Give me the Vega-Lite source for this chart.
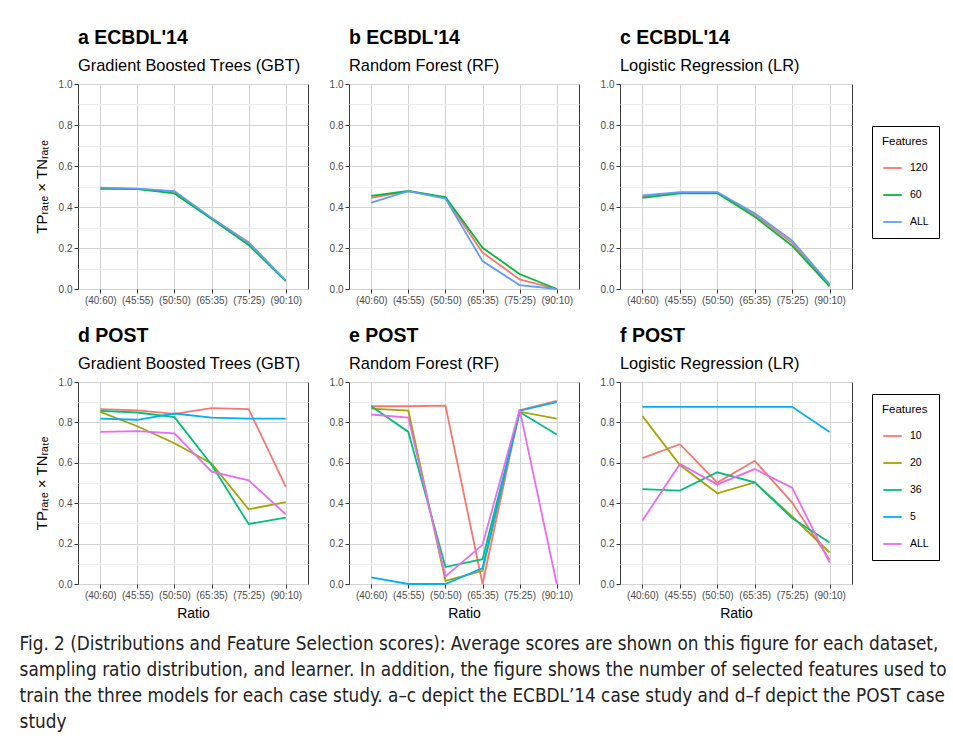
{
  "$schema": "https://vega.github.io/schema/vega-lite/v6.json",
  "padding": {"left": 19, "top": 27, "right": 5, "bottom": 5},
  "background": "white",
  "datasets": {
    "ecbdl_gbt": [
      {"Ratio": "(40:60)", "Features": "120", "Score": 0.492}, {"Ratio": "(45:55)", "Features": "120", "Score": 0.488}, {"Ratio": "(50:50)", "Features": "120", "Score": 0.475}, {"Ratio": "(65:35)", "Features": "120", "Score": 0.345}, {"Ratio": "(75:25)", "Features": "120", "Score": 0.228}, {"Ratio": "(90:10)", "Features": "120", "Score": 0.040},
      {"Ratio": "(40:60)", "Features": "60", "Score": 0.488}, {"Ratio": "(45:55)", "Features": "60", "Score": 0.487}, {"Ratio": "(50:50)", "Features": "60", "Score": 0.466}, {"Ratio": "(65:35)", "Features": "60", "Score": 0.342}, {"Ratio": "(75:25)", "Features": "60", "Score": 0.215}, {"Ratio": "(90:10)", "Features": "60", "Score": 0.038},
      {"Ratio": "(40:60)", "Features": "ALL", "Score": 0.495}, {"Ratio": "(45:55)", "Features": "ALL", "Score": 0.490}, {"Ratio": "(50:50)", "Features": "ALL", "Score": 0.478}, {"Ratio": "(65:35)", "Features": "ALL", "Score": 0.347}, {"Ratio": "(75:25)", "Features": "ALL", "Score": 0.225}, {"Ratio": "(90:10)", "Features": "ALL", "Score": 0.042}
    ],
    "ecbdl_rf": [
      {"Ratio": "(40:60)", "Features": "120", "Score": 0.444}, {"Ratio": "(45:55)", "Features": "120", "Score": 0.477}, {"Ratio": "(50:50)", "Features": "120", "Score": 0.444}, {"Ratio": "(65:35)", "Features": "120", "Score": 0.178}, {"Ratio": "(75:25)", "Features": "120", "Score": 0.047}, {"Ratio": "(90:10)", "Features": "120", "Score": 0.0},
      {"Ratio": "(40:60)", "Features": "60", "Score": 0.454}, {"Ratio": "(45:55)", "Features": "60", "Score": 0.478}, {"Ratio": "(50:50)", "Features": "60", "Score": 0.449}, {"Ratio": "(65:35)", "Features": "60", "Score": 0.201}, {"Ratio": "(75:25)", "Features": "60", "Score": 0.073}, {"Ratio": "(90:10)", "Features": "60", "Score": 0.0},
      {"Ratio": "(40:60)", "Features": "ALL", "Score": 0.421}, {"Ratio": "(45:55)", "Features": "ALL", "Score": 0.477}, {"Ratio": "(50:50)", "Features": "ALL", "Score": 0.441}, {"Ratio": "(65:35)", "Features": "ALL", "Score": 0.136}, {"Ratio": "(75:25)", "Features": "ALL", "Score": 0.019}, {"Ratio": "(90:10)", "Features": "ALL", "Score": 0.0}
    ],
    "ecbdl_lr": [
      {"Ratio": "(40:60)", "Features": "120", "Score": 0.450}, {"Ratio": "(45:55)", "Features": "120", "Score": 0.470}, {"Ratio": "(50:50)", "Features": "120", "Score": 0.470}, {"Ratio": "(65:35)", "Features": "120", "Score": 0.362}, {"Ratio": "(75:25)", "Features": "120", "Score": 0.225}, {"Ratio": "(90:10)", "Features": "120", "Score": 0.018},
      {"Ratio": "(40:60)", "Features": "60", "Score": 0.445}, {"Ratio": "(45:55)", "Features": "60", "Score": 0.466}, {"Ratio": "(50:50)", "Features": "60", "Score": 0.467}, {"Ratio": "(65:35)", "Features": "60", "Score": 0.353}, {"Ratio": "(75:25)", "Features": "60", "Score": 0.211}, {"Ratio": "(90:10)", "Features": "60", "Score": 0.013},
      {"Ratio": "(40:60)", "Features": "ALL", "Score": 0.456}, {"Ratio": "(45:55)", "Features": "ALL", "Score": 0.473}, {"Ratio": "(50:50)", "Features": "ALL", "Score": 0.473}, {"Ratio": "(65:35)", "Features": "ALL", "Score": 0.369}, {"Ratio": "(75:25)", "Features": "ALL", "Score": 0.236}, {"Ratio": "(90:10)", "Features": "ALL", "Score": 0.024}
    ],
    "post_gbt": [
      {"Ratio": "(40:60)", "Features": "10", "Score": 0.866}, {"Ratio": "(45:55)", "Features": "10", "Score": 0.860}, {"Ratio": "(50:50)", "Features": "10", "Score": 0.842}, {"Ratio": "(65:35)", "Features": "10", "Score": 0.871}, {"Ratio": "(75:25)", "Features": "10", "Score": 0.866}, {"Ratio": "(90:10)", "Features": "10", "Score": 0.482},
      {"Ratio": "(40:60)", "Features": "20", "Score": 0.852}, {"Ratio": "(45:55)", "Features": "20", "Score": 0.781}, {"Ratio": "(50:50)", "Features": "20", "Score": 0.697}, {"Ratio": "(65:35)", "Features": "20", "Score": 0.597}, {"Ratio": "(75:25)", "Features": "20", "Score": 0.370}, {"Ratio": "(90:10)", "Features": "20", "Score": 0.405},
      {"Ratio": "(40:60)", "Features": "36", "Score": 0.857}, {"Ratio": "(45:55)", "Features": "36", "Score": 0.849}, {"Ratio": "(50:50)", "Features": "36", "Score": 0.826}, {"Ratio": "(65:35)", "Features": "36", "Score": 0.590}, {"Ratio": "(75:25)", "Features": "36", "Score": 0.297}, {"Ratio": "(90:10)", "Features": "36", "Score": 0.329},
      {"Ratio": "(40:60)", "Features": "5", "Score": 0.819}, {"Ratio": "(45:55)", "Features": "5", "Score": 0.813}, {"Ratio": "(50:50)", "Features": "5", "Score": 0.844}, {"Ratio": "(65:35)", "Features": "5", "Score": 0.824}, {"Ratio": "(75:25)", "Features": "5", "Score": 0.819}, {"Ratio": "(90:10)", "Features": "5", "Score": 0.819},
      {"Ratio": "(40:60)", "Features": "ALL", "Score": 0.753}, {"Ratio": "(45:55)", "Features": "ALL", "Score": 0.757}, {"Ratio": "(50:50)", "Features": "ALL", "Score": 0.746}, {"Ratio": "(65:35)", "Features": "ALL", "Score": 0.556}, {"Ratio": "(75:25)", "Features": "ALL", "Score": 0.513}, {"Ratio": "(90:10)", "Features": "ALL", "Score": 0.345}
    ],
    "post_rf": [
      {"Ratio": "(40:60)", "Features": "10", "Score": 0.880}, {"Ratio": "(45:55)", "Features": "10", "Score": 0.880}, {"Ratio": "(50:50)", "Features": "10", "Score": 0.883}, {"Ratio": "(65:35)", "Features": "10", "Score": 0.0}, {"Ratio": "(75:25)", "Features": "10", "Score": 0.860}, {"Ratio": "(90:10)", "Features": "10", "Score": 0.907},
      {"Ratio": "(40:60)", "Features": "20", "Score": 0.868}, {"Ratio": "(45:55)", "Features": "20", "Score": 0.858}, {"Ratio": "(50:50)", "Features": "20", "Score": 0.016}, {"Ratio": "(65:35)", "Features": "20", "Score": 0.065}, {"Ratio": "(75:25)", "Features": "20", "Score": 0.853}, {"Ratio": "(90:10)", "Features": "20", "Score": 0.819},
      {"Ratio": "(40:60)", "Features": "36", "Score": 0.880}, {"Ratio": "(45:55)", "Features": "36", "Score": 0.753}, {"Ratio": "(50:50)", "Features": "36", "Score": 0.084}, {"Ratio": "(65:35)", "Features": "36", "Score": 0.123}, {"Ratio": "(75:25)", "Features": "36", "Score": 0.851}, {"Ratio": "(90:10)", "Features": "36", "Score": 0.740},
      {"Ratio": "(40:60)", "Features": "5", "Score": 0.033}, {"Ratio": "(45:55)", "Features": "5", "Score": 0.0}, {"Ratio": "(50:50)", "Features": "5", "Score": 0.0}, {"Ratio": "(65:35)", "Features": "5", "Score": 0.079}, {"Ratio": "(75:25)", "Features": "5", "Score": 0.858}, {"Ratio": "(90:10)", "Features": "5", "Score": 0.900},
      {"Ratio": "(40:60)", "Features": "ALL", "Score": 0.839}, {"Ratio": "(45:55)", "Features": "ALL", "Score": 0.824}, {"Ratio": "(50:50)", "Features": "ALL", "Score": 0.038}, {"Ratio": "(65:35)", "Features": "ALL", "Score": 0.194}, {"Ratio": "(75:25)", "Features": "ALL", "Score": 0.863}, {"Ratio": "(90:10)", "Features": "ALL", "Score": 0.0}
    ],
    "post_lr": [
      {"Ratio": "(40:60)", "Features": "10", "Score": 0.623}, {"Ratio": "(45:55)", "Features": "10", "Score": 0.692}, {"Ratio": "(50:50)", "Features": "10", "Score": 0.502}, {"Ratio": "(65:35)", "Features": "10", "Score": 0.610}, {"Ratio": "(75:25)", "Features": "10", "Score": 0.403}, {"Ratio": "(90:10)", "Features": "10", "Score": 0.120},
      {"Ratio": "(40:60)", "Features": "20", "Score": 0.831}, {"Ratio": "(45:55)", "Features": "20", "Score": 0.589}, {"Ratio": "(50:50)", "Features": "20", "Score": 0.449}, {"Ratio": "(65:35)", "Features": "20", "Score": 0.503}, {"Ratio": "(75:25)", "Features": "20", "Score": 0.334}, {"Ratio": "(90:10)", "Features": "20", "Score": 0.156},
      {"Ratio": "(40:60)", "Features": "36", "Score": 0.470}, {"Ratio": "(45:55)", "Features": "36", "Score": 0.462}, {"Ratio": "(50:50)", "Features": "36", "Score": 0.553}, {"Ratio": "(65:35)", "Features": "36", "Score": 0.503}, {"Ratio": "(75:25)", "Features": "36", "Score": 0.326}, {"Ratio": "(90:10)", "Features": "36", "Score": 0.206},
      {"Ratio": "(40:60)", "Features": "5", "Score": 0.877}, {"Ratio": "(45:55)", "Features": "5", "Score": 0.877}, {"Ratio": "(50:50)", "Features": "5", "Score": 0.877}, {"Ratio": "(65:35)", "Features": "5", "Score": 0.877}, {"Ratio": "(75:25)", "Features": "5", "Score": 0.877}, {"Ratio": "(90:10)", "Features": "5", "Score": 0.753},
      {"Ratio": "(40:60)", "Features": "ALL", "Score": 0.314}, {"Ratio": "(45:55)", "Features": "ALL", "Score": 0.594}, {"Ratio": "(50:50)", "Features": "ALL", "Score": 0.493}, {"Ratio": "(65:35)", "Features": "ALL", "Score": 0.569}, {"Ratio": "(75:25)", "Features": "ALL", "Score": 0.477}, {"Ratio": "(90:10)", "Features": "ALL", "Score": 0.107}
    ]
  },
  "config": {
    "font": "Liberation Sans",
    "view": {"stroke": "#3c3c3c", "strokeWidth": 1},
    "axis": {"domain": false, "labelFont": "Liberation Sans", "labelFontSize": 10, "labelColor": "#4d4d4d", "tickColor": "#333333", "tickSize": 4, "labelPadding": 2, "titleFont": "Liberation Sans", "titleFontSize": 14, "titleFontWeight": "normal", "titleColor": "black", "gridColor": "#d3d3d3", "gridWidth": 1},
    "axisX": {"labelAngle": 0, "titlePadding": 6},
    "axisY": {"titlePadding": 9},
    "legend": {"strokeColor": "black", "padding": 10, "symbolType": "stroke", "symbolSize": 340, "symbolStrokeWidth": 2, "rowPadding": 11, "titlePadding": 10, "labelFontSize": 10.5, "labelFont": "Liberation Sans", "labelColor": "black", "titleFont": "Liberation Sans", "titleFontSize": 11.5, "titleFontWeight": "normal", "titleColor": "black", "labelOffset": 7},
    "title": {"anchor": "start", "frame": "group", "font": "Liberation Sans", "fontSize": 19.5, "fontWeight": "bold", "color": "black", "subtitleFont": "Liberation Sans", "subtitleFontSize": 16.4, "subtitleColor": "black", "subtitlePadding": 9, "offset": 4},
    "line": {"strokeWidth": 1.8}
  },
  "title": {
    "text": ["Fig. 2  (Distributions and Feature Selection scores): Average scores are shown on this figure for each dataset,", "sampling ratio distribution, and learner. In addition, the figure shows the number of selected features used to", "train the three models for each case study. a–c depict the ECBDL’14 case study and d–f depict the POST case", "study"],
    "orient": "bottom", "anchor": "start", "frame": "bounds", "font": "DejaVu Sans Condensed", "fontSize": 18.8, "fontWeight": "normal", "color": "#222222", "lineHeight": 26, "offset": 14, "dx": -14
  },
  "resolve": {"scale": {"color": "independent"}, "legend": {"color": "independent"}},
  "spacing": 19,
  "vconcat": [
    {
      "resolve": {"scale": {"color": "independent"}, "legend": {"color": "independent"}},
      "spacing": 19,
      "hconcat": [
        {
          "width": 230, "height": 205,
          "title": {"text": "a  ECBDL'14", "subtitle": "Gradient Boosted Trees (GBT)"},
          "data": {"name": "ecbdl_gbt"},
          "mark": "line",
          "encoding": {
            "x": {"field": "Ratio", "type": "ordinal", "sort": ["(40:60)", "(45:55)", "(50:50)", "(65:35)", "(75:25)", "(90:10)"], "scale": {"type": "point", "padding": 0.6}, "axis": {"title": null, "grid": true}},
            "y": {"field": "Score", "type": "quantitative", "scale": {"domain": [0, 1], "nice": false}, "axis": {"title": "TPᵣₐₜₑ × TNᵣₐₜₑ", "titleFontSize": 15, "values": [0, 0.1, 0.2, 0.3, 0.4, 0.5, 0.6, 0.7, 0.8, 0.9, 1], "labelOverlap": false, "labelExpr": "round(datum.value*10) % 2 == 0 ? format(datum.value, '.1f') : ''", "gridColor": {"condition": {"test": "round(datum.value*10) % 2 == 1", "value": "#ececec"}, "value": "#d3d3d3"}, "tickOpacity": {"condition": {"test": "round(datum.value*10) % 2 == 1", "value": 0}, "value": 1}}},
            "color": {"field": "Features", "type": "nominal", "scale": {"domain": ["120", "60", "ALL"], "range": ["#F8766D", "#00BA38", "#619CFF"]}, "legend": null}
          }
        },
        {
          "width": 230, "height": 205,
          "title": {"text": "b  ECBDL'14", "subtitle": "Random Forest (RF)"},
          "data": {"name": "ecbdl_rf"},
          "mark": "line",
          "encoding": {
            "x": {"field": "Ratio", "type": "ordinal", "sort": ["(40:60)", "(45:55)", "(50:50)", "(65:35)", "(75:25)", "(90:10)"], "scale": {"type": "point", "padding": 0.6}, "axis": {"title": null, "grid": true}},
            "y": {"field": "Score", "type": "quantitative", "scale": {"domain": [0, 1], "nice": false}, "axis": {"title": null, "values": [0, 0.1, 0.2, 0.3, 0.4, 0.5, 0.6, 0.7, 0.8, 0.9, 1], "labelOverlap": false, "labelExpr": "round(datum.value*10) % 2 == 0 ? format(datum.value, '.1f') : ''", "gridColor": {"condition": {"test": "round(datum.value*10) % 2 == 1", "value": "#ececec"}, "value": "#d3d3d3"}, "tickOpacity": {"condition": {"test": "round(datum.value*10) % 2 == 1", "value": 0}, "value": 1}}},
            "color": {"field": "Features", "type": "nominal", "scale": {"domain": ["120", "60", "ALL"], "range": ["#F8766D", "#00BA38", "#619CFF"]}, "legend": null}
          }
        },
        {
          "width": 232, "height": 205,
          "title": {"text": "c  ECBDL'14", "subtitle": "Logistic Regression (LR)"},
          "data": {"name": "ecbdl_lr"},
          "mark": "line",
          "encoding": {
            "x": {"field": "Ratio", "type": "ordinal", "sort": ["(40:60)", "(45:55)", "(50:50)", "(65:35)", "(75:25)", "(90:10)"], "scale": {"type": "point", "padding": 0.6}, "axis": {"title": null, "grid": true}},
            "y": {"field": "Score", "type": "quantitative", "scale": {"domain": [0, 1], "nice": false}, "axis": {"title": null, "values": [0, 0.1, 0.2, 0.3, 0.4, 0.5, 0.6, 0.7, 0.8, 0.9, 1], "labelOverlap": false, "labelExpr": "round(datum.value*10) % 2 == 0 ? format(datum.value, '.1f') : ''", "gridColor": {"condition": {"test": "round(datum.value*10) % 2 == 1", "value": "#ececec"}, "value": "#d3d3d3"}, "tickOpacity": {"condition": {"test": "round(datum.value*10) % 2 == 1", "value": 0}, "value": 1}}},
            "color": {"field": "Features", "type": "nominal", "scale": {"domain": ["120", "60", "ALL"], "range": ["#F8766D", "#00BA38", "#619CFF"]}, "legend": {"title": "Features", "orient": "none", "legendX": 252, "legendY": 42}}
          }
        }
      ]
    },
    {
      "resolve": {"scale": {"color": "independent"}, "legend": {"color": "independent"}},
      "spacing": 19,
      "hconcat": [
        {
          "width": 230, "height": 202,
          "title": {"text": "d  POST", "subtitle": "Gradient Boosted Trees (GBT)"},
          "data": {"name": "post_gbt"},
          "mark": "line",
          "encoding": {
            "x": {"field": "Ratio", "type": "ordinal", "sort": ["(40:60)", "(45:55)", "(50:50)", "(65:35)", "(75:25)", "(90:10)"], "scale": {"type": "point", "padding": 0.6}, "axis": {"title": "Ratio", "grid": true}},
            "y": {"field": "Score", "type": "quantitative", "scale": {"domain": [0, 1], "nice": false}, "axis": {"title": "TPᵣₐₜₑ × TNᵣₐₜₑ", "titleFontSize": 15, "values": [0, 0.1, 0.2, 0.3, 0.4, 0.5, 0.6, 0.7, 0.8, 0.9, 1], "labelOverlap": false, "labelExpr": "round(datum.value*10) % 2 == 0 ? format(datum.value, '.1f') : ''", "gridColor": {"condition": {"test": "round(datum.value*10) % 2 == 1", "value": "#ececec"}, "value": "#d3d3d3"}, "tickOpacity": {"condition": {"test": "round(datum.value*10) % 2 == 1", "value": 0}, "value": 1}}},
            "color": {"field": "Features", "type": "nominal", "scale": {"domain": ["10", "20", "36", "5", "ALL"], "range": ["#F8766D", "#A3A500", "#00BF7D", "#00B0F6", "#E76BF3"]}, "legend": null}
          }
        },
        {
          "width": 230, "height": 202,
          "title": {"text": "e  POST", "subtitle": "Random Forest (RF)"},
          "data": {"name": "post_rf"},
          "mark": "line",
          "encoding": {
            "x": {"field": "Ratio", "type": "ordinal", "sort": ["(40:60)", "(45:55)", "(50:50)", "(65:35)", "(75:25)", "(90:10)"], "scale": {"type": "point", "padding": 0.6}, "axis": {"title": "Ratio", "grid": true}},
            "y": {"field": "Score", "type": "quantitative", "scale": {"domain": [0, 1], "nice": false}, "axis": {"title": null, "values": [0, 0.1, 0.2, 0.3, 0.4, 0.5, 0.6, 0.7, 0.8, 0.9, 1], "labelOverlap": false, "labelExpr": "round(datum.value*10) % 2 == 0 ? format(datum.value, '.1f') : ''", "gridColor": {"condition": {"test": "round(datum.value*10) % 2 == 1", "value": "#ececec"}, "value": "#d3d3d3"}, "tickOpacity": {"condition": {"test": "round(datum.value*10) % 2 == 1", "value": 0}, "value": 1}}},
            "color": {"field": "Features", "type": "nominal", "scale": {"domain": ["10", "20", "36", "5", "ALL"], "range": ["#F8766D", "#A3A500", "#00BF7D", "#00B0F6", "#E76BF3"]}, "legend": null}
          }
        },
        {
          "width": 232, "height": 202,
          "title": {"text": "f  POST", "subtitle": "Logistic Regression (LR)"},
          "data": {"name": "post_lr"},
          "mark": "line",
          "encoding": {
            "x": {"field": "Ratio", "type": "ordinal", "sort": ["(40:60)", "(45:55)", "(50:50)", "(65:35)", "(75:25)", "(90:10)"], "scale": {"type": "point", "padding": 0.6}, "axis": {"title": "Ratio", "grid": true}},
            "y": {"field": "Score", "type": "quantitative", "scale": {"domain": [0, 1], "nice": false}, "axis": {"title": null, "values": [0, 0.1, 0.2, 0.3, 0.4, 0.5, 0.6, 0.7, 0.8, 0.9, 1], "labelOverlap": false, "labelExpr": "round(datum.value*10) % 2 == 0 ? format(datum.value, '.1f') : ''", "gridColor": {"condition": {"test": "round(datum.value*10) % 2 == 1", "value": "#ececec"}, "value": "#d3d3d3"}, "tickOpacity": {"condition": {"test": "round(datum.value*10) % 2 == 1", "value": 0}, "value": 1}}},
            "color": {"field": "Features", "type": "nominal", "scale": {"domain": ["10", "20", "36", "5", "ALL"], "range": ["#F8766D", "#A3A500", "#00BF7D", "#00B0F6", "#E76BF3"]}, "legend": {"title": "Features", "orient": "none", "legendX": 252, "legendY": 12}}
          }
        }
      ]
    }
  ]
}
